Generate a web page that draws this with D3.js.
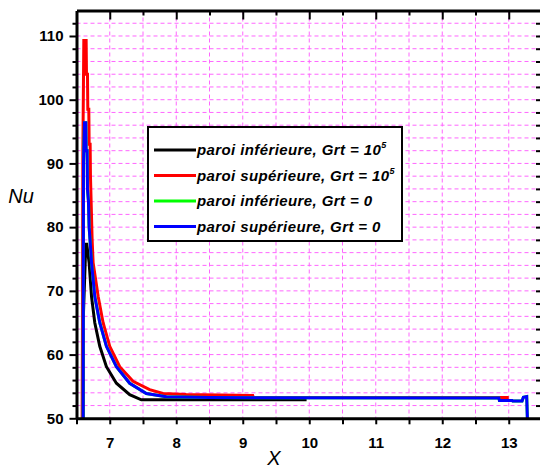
<!DOCTYPE html>
<html><head><meta charset="utf-8">
<script src="https://cdn.jsdelivr.net/npm/d3@7"></script>
<style>
html,body{margin:0;padding:0;background:#fff;}
svg{display:block;}
text{font-family:Arial,"Liberation Sans",sans-serif;}
</style></head>
<body>
<script>
// ---- data ----
const seriesNames = ["paroi inférieure, Grt = 10", "paroi supérieure, Grt = 10", "paroi inférieure, Grt = 0", "paroi supérieure, Grt = 0"];
const seriesSup = ["5", "5", "", ""];
const seriesColors = ["#000000", "#ff0000", "#00ff00", "#0000ff"];

const blackX  = [6.600, 6.600, 6.640, 6.655, 6.670, 6.690, 6.726, 6.775, 6.850, 6.950, 7.100, 7.300, 7.475, 8.500, 9.960];
const blackNu = [50.0, 65.0, 77.3, 77.3, 76.0, 74.4, 69.1, 65.0, 61.3, 58.1, 55.5, 53.7, 52.9, 52.9, 52.9];

const redX  = [6.585, 6.590, 6.595, 6.610, 6.645, 6.650, 6.665, 6.670, 6.685, 6.690, 6.705, 6.710, 6.720, 6.735, 6.750, 6.826, 6.900, 7.000, 7.150, 7.350, 7.600, 7.800, 8.150, 9.150, 9.160, 13.000];
const redNu = [50.0, 64.0, 91.0, 109.3, 109.3, 104.0, 104.0, 98.5, 98.5, 93.0, 93.0, 88.0, 84.0, 78.0, 74.4, 69.1, 65.0, 61.3, 58.1, 55.8, 54.5, 53.9, 53.75, 53.6, 53.25, 53.25];

const greenX  = [6.600, 6.605, 6.620, 6.640, 6.645, 6.660, 6.665, 6.680, 6.690, 6.710, 6.726, 6.775, 6.850, 6.950, 7.100, 7.300, 7.550, 7.850, 8.500, 12.850, 12.860, 13.050, 13.060, 13.200, 13.220, 13.270, 13.280];
const greenNu = [50.0, 90.0, 96.4, 96.4, 92.0, 92.0, 86.0, 84.0, 80.0, 77.0, 74.4, 69.1, 65.0, 61.3, 58.1, 55.5, 53.9, 53.4, 53.25, 53.2, 52.8, 52.8, 52.7, 52.7, 53.3, 53.4, 50.0];

const blueX  = [6.600, 6.605, 6.620, 6.640, 6.645, 6.660, 6.665, 6.680, 6.690, 6.710, 6.726, 6.775, 6.850, 6.950, 7.100, 7.300, 7.550, 7.850, 8.500, 12.850, 12.860, 13.050, 13.060, 13.200, 13.220, 13.270, 13.280];
const blueNu = [50.0, 90.0, 96.4, 96.4, 92.0, 92.0, 86.0, 84.0, 80.0, 77.0, 74.4, 69.1, 65.0, 61.3, 58.1, 55.5, 53.9, 53.4, 53.25, 53.2, 52.8, 52.8, 52.7, 52.7, 53.3, 53.4, 50.0];

const xTicks = [7, 8, 9, 10, 11, 12, 13];
const yTicks = [50, 60, 70, 80, 90, 100, 110];

// ---- layout ----
const W = 540, H = 468;
const svg = d3.select("body").append("svg").attr("width", W).attr("height", H);

const x = d3.scaleLinear().domain([6.5, 13.5]).range([76.5, 542]);
const y = d3.scaleLinear().domain([50, 114]).range([418.3, 10.5]);

const grid = "#ff66ff";

// grid lines
const gx = d3.range(7, 13.01, 0.5);
const gy = d3.range(52, 113, 2);
svg.append("g").selectAll("line").data(gx).join("line")
  .attr("x1", d => x(d)).attr("x2", d => x(d))
  .attr("y1", y(114)).attr("y2", y(50))
  .attr("stroke", grid).attr("stroke-width", 1).attr("stroke-dasharray", "4,3");
svg.append("g").selectAll("line").data(gy).join("line")
  .attr("x1", x(6.5)).attr("x2", x(13.5))
  .attr("y1", d => y(d)).attr("y2", d => y(d))
  .attr("stroke", grid).attr("stroke-width", 1).attr("stroke-dasharray", "4,3");

// curves
const line = d3.line().x(d => x(d[0])).y(d => y(d[1]));
const seriesData = [
  d3.zip(blackX, blackNu),
  d3.zip(redX, redNu),
  d3.zip(greenX, greenNu),
  d3.zip(blueX, blueNu)
];
svg.append("g").selectAll("path").data(seriesData).join("path")
  .attr("d", line)
  .attr("fill", "none")
  .attr("stroke", (d, i) => seriesColors[i])
  .attr("stroke-width", 3)
  .attr("stroke-linejoin", "miter");

// axes
const axStyle = g => {
  g.select(".domain").attr("stroke", "#000").attr("stroke-width", 3);
  g.selectAll(".tick line").attr("stroke", "#000").attr("stroke-width", 2);
};

// bottom
const axBottom = svg.append("g").attr("transform", `translate(0,${y(50)})`)
  .call(d3.axisBottom(x).tickValues(d3.range(6.5, 13.51, 0.5)).tickSize(6).tickSizeOuter(0).tickFormat(""));
axStyle(axBottom);
svg.append("g").attr("transform", `translate(0,${y(50)})`)
  .call(d3.axisBottom(x).tickValues(xTicks).tickSize(0).tickPadding(19).tickFormat(d3.format("d")))
  .call(g => g.select(".domain").remove())
  .selectAll("text").attr("font-size", 15).attr("font-weight", "bold").attr("fill", "#000");

// top
const axTop = svg.append("g").attr("transform", `translate(0,${y(114)})`)
  .call(d3.axisBottom(x).tickValues(d3.range(7, 13.51, 1)).tickSize(9).tickSizeOuter(0).tickFormat(""));
axStyle(axTop);
svg.append("g").attr("transform", `translate(0,${y(114)})`)
  .call(d3.axisBottom(x).tickValues(d3.range(7.5, 13.6, 1)).tickSize(5).tickSizeOuter(0).tickFormat(""))
  .call(g => g.select(".domain").remove())
  .selectAll(".tick line").attr("stroke", "#000").attr("stroke-width", 2);

// left
const axLeft = svg.append("g").attr("transform", `translate(${x(6.5)},0)`)
  .call(d3.axisLeft(y).tickValues(yTicks).tickSize(7).tickSizeOuter(0).tickPadding(6).tickFormat(d3.format("d")));
axStyle(axLeft);
axLeft.selectAll("text").attr("font-size", 15).attr("font-weight", "bold").attr("fill", "#000");
svg.append("g").attr("transform", `translate(${x(6.5)},0)`)
  .call(d3.axisLeft(y).tickValues(d3.range(52, 114, 2).filter(v => v % 10 !== 0)).tickSize(4).tickSizeOuter(0).tickFormat(""))
  .call(g => g.select(".domain").remove())
  .selectAll(".tick line").attr("stroke", "#000").attr("stroke-width", 2);

// right
const axRight = svg.append("g").attr("transform", `translate(${x(13.5)},0)`)
  .call(d3.axisLeft(y).tickValues(d3.range(52, 114, 2)).tickSize(6).tickSizeOuter(0).tickFormat(""));
axStyle(axRight);

// axis titles
svg.append("text").attr("x", 21).attr("y", 203).attr("text-anchor", "middle")
  .attr("font-size", 20).attr("font-style", "italic").text("Nu");
svg.append("text").attr("x", 274).attr("y", 465).attr("text-anchor", "middle")
  .attr("font-size", 20).attr("font-style", "italic").text("X");

// legend
const lg = svg.append("g");
lg.append("rect").attr("x", 148).attr("y", 127).attr("width", 254).attr("height", 114)
  .attr("fill", "#fff").attr("stroke", "#000").attr("stroke-width", 2);
const rows = lg.selectAll("g.row").data(seriesNames).join("g").attr("class", "row")
  .attr("transform", (d, i) => `translate(0,${150 + i * 25.5})`);
rows.append("line").attr("x1", 154).attr("x2", 196).attr("y1", 0).attr("y2", 0)
  .attr("stroke", (d, i) => seriesColors[i]).attr("stroke-width", 3);
const t = rows.append("text").attr("x", 197).attr("y", 5)
  .attr("font-size", 15).attr("font-weight", "bold").attr("font-style", "italic")
  .attr("letter-spacing", 0.4);
t.append("tspan").text(d => d);
t.append("tspan").attr("dy", -7).attr("font-size", 9).text((d, i) => seriesSup[i]);
</script>
</body></html>
